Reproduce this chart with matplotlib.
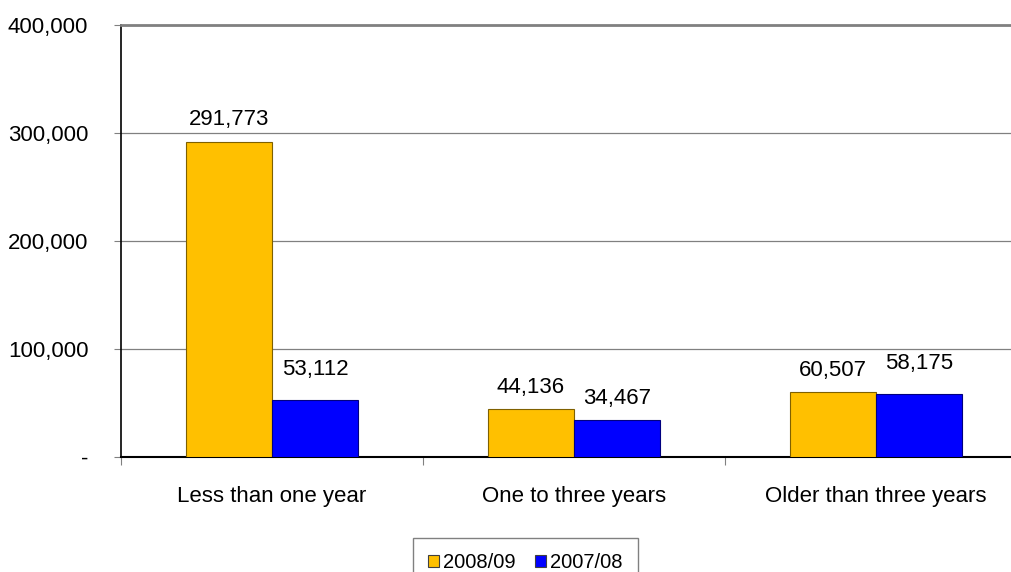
import matplotlib
matplotlib.use("Agg")
import matplotlib.pyplot as plt
import numpy as np
from matplotlib.ticker import FuncFormatter, FixedLocator

plt.rcParams['font.family'] = ['Liberation Sans', 'DejaVu Sans']

categories = ["Less than one year", "One to three years", "Older than three years"]
series_names = ["2008/09", "2007/08"]
values_0809 = [291773, 44136, 60507]
values_0708 = [53112, 34467, 58175]

colors = ["#FFC000", "#0000FF"]
edges = ["#7F6000", "#00007F"]
# gap (points) between each bar top and the baseline of its value label
label_gaps = [[12, 12, 11], [18, 11.5, 18]]

FS = 16

W, H = 1011, 572
fig = plt.figure(figsize=(W / 100, H / 100), dpi=100)
# plot area runs slightly past the right edge of the canvas
left, right, top, bottom = 121, 1027, 25, 457
ax = fig.add_axes([left / W, 1 - bottom / H, (right - left) / W, (bottom - top) / H])

x = np.arange(len(categories))
bw = 0.285
b1 = ax.bar(x - bw / 2, values_0809, bw, color=colors[0], edgecolor=edges[0], linewidth=0.8,
            label=series_names[0], zorder=3)
b2 = ax.bar(x + bw / 2, values_0708, bw, color=colors[1], edgecolor=edges[1], linewidth=0.8,
            label=series_names[1], zorder=3)

for bars, gaps in zip((b1, b2), label_gaps):
    for rect, g in zip(bars, gaps):
        v = rect.get_height()
        ax.annotate(f"{v:,.0f}", (rect.get_x() + rect.get_width() / 2, v),
                    xytext=(0, g), textcoords="offset points",
                    ha="center", va="baseline", fontsize=FS)

ax.set_xlim(-0.5, len(categories) - 0.5)
ax.set_ylim(0, 400000)
ax.set_yticks(np.arange(0, 400001, 100000))
ax.yaxis.set_major_formatter(FuncFormatter(lambda v, p: "-" if v == 0 else f"{v:,.0f}"))
ax.grid(axis="y", color="#808080", linewidth=0.9, zorder=0)
ax.tick_params(axis="y", labelsize=FS, length=5, color="#808080", pad=18.5)

ax.xaxis.set_major_locator(FixedLocator([-0.5, 0.5, 1.5, 2.5]))
ax.xaxis.set_major_formatter(FuncFormatter(lambda v, p: ""))
ax.xaxis.set_minor_locator(FixedLocator(x))
ax.set_xticklabels(categories, minor=True)
ax.tick_params(axis="x", which="major", length=6, color="#808080")
ax.tick_params(axis="x", which="minor", length=0, labelsize=FS, pad=21)

ax.spines["right"].set_visible(False)
ax.spines["top"].set_color("#808080")
ax.spines["top"].set_linewidth(2)
ax.spines["left"].set_color("#000000")
ax.spines["left"].set_linewidth(1.2)
ax.spines["bottom"].set_color("#000000")
ax.spines["bottom"].set_linewidth(1.5)

leg = fig.legend(loc="upper center", bbox_to_anchor=(525.5 / W, 1 - 538 / H), ncol=2,
                 fontsize=14.5, frameon=True, fancybox=False, edgecolor="#606060",
                 handlelength=0.56, handleheight=0.56, handletextpad=0.2, columnspacing=0.95,
                 borderpad=0.75, borderaxespad=0)
leg.get_frame().set_linewidth(1.0)
for p in leg.legend_handles:
    p.set_edgecolor("#404040")

fig.savefig("out.png", dpi=100)
